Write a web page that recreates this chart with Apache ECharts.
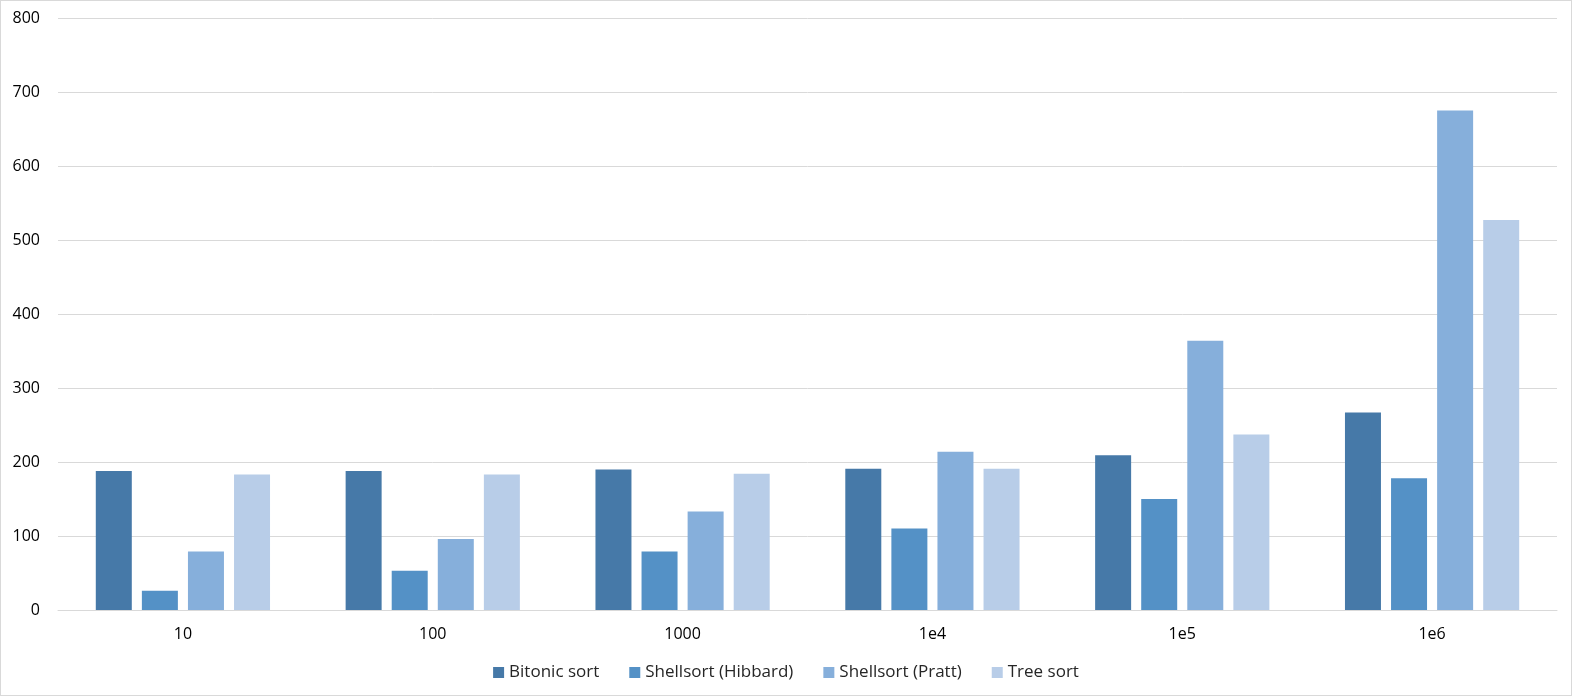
<!DOCTYPE html>
<html><head><meta charset="utf-8">
<script src="https://cdn.jsdelivr.net/npm/echarts@6/dist/echarts.min.js"></script>
<style>html,body{margin:0;padding:0;background:#fff}#c{width:1570px;height:694px;border:1px solid #d9d9d9}</style>
</head><body><div id="c"></div>
<script>
const categories = ['10','100','1000','1e4','1e5','1e6'];
const bitonic = [188, 188, 190, 191, 209, 267];
const hibbard = [26, 53, 79, 110, 150, 178];
const pratt = [79, 96, 133, 214, 364, 675];
const tree = [183, 183, 184, 191, 237, 527];
const yTicks = [0,100,200,300,400,500,600,700,800];

const names = ['Bitonic sort','Shellsort (Hibbard)','Shellsort (Pratt)','Tree sort'];
const colors = ['#4679a8','#5491c6','#86afdb','#b8cde8'];
const datas = [bitonic, hibbard, pratt, tree];
const font = 'Open Sans, sans-serif';
const chart = echarts.init(document.getElementById('c'));
chart.setOption({
  animation:false,
  color: colors,
  grid:{left:57,right:14,top:17,bottom:85},
  legend:{bottom:9,left:'center',itemWidth:11,itemHeight:11,itemGap:30,icon:'rect',
    textStyle:{fontFamily:font,fontSize:17,color:'#262626'}},
  xAxis:{type:'category',data:categories,axisTick:{show:false},
    axisLine:{lineStyle:{color:'#d9d9d9'}},
    axisLabel:{fontFamily:font,fontSize:16,color:'#000',margin:16}},
  yAxis:{type:'value',min:yTicks[0],max:yTicks[yTicks.length-1],interval:100,
    axisLabel:{fontFamily:font,fontSize:16,color:'#000',margin:18},
    splitLine:{lineStyle:{color:'#d9d9d9'}}},
  series: datas.map((d,i)=>({name:names[i],type:'bar',data:d,barWidth:36,barGap:'28%'}))
});
</script></body></html>
